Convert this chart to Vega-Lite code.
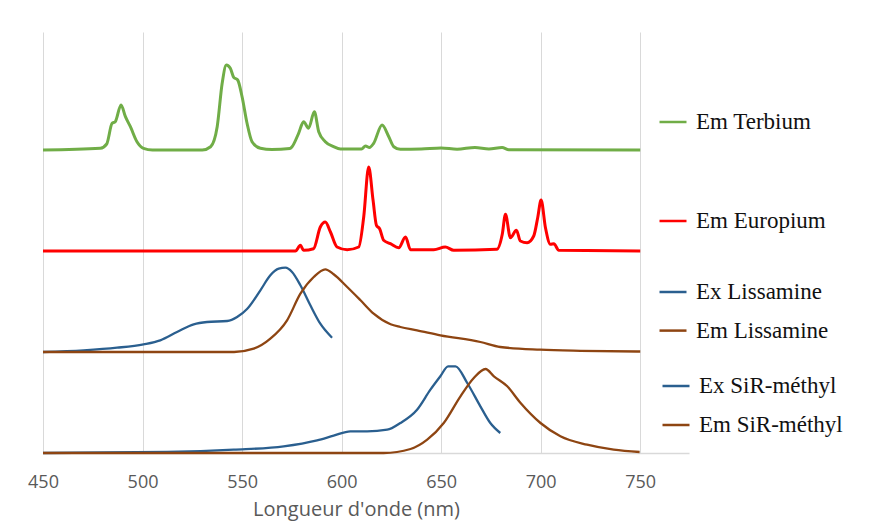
{
  "$schema": "https://vega.github.io/schema/vega-lite/v6.json",
  "width": 646,
  "height": 421,
  "autosize": {"type": "none"},
  "padding": {"left": 43, "top": 32, "right": 207, "bottom": 69},
  "background": "white",
  "config": {
    "view": {"stroke": null},
    "axis": {
      "domainColor": "#d9d9d9", "domainWidth": 1.5, "gridColor": "#d9d9d9", "gridWidth": 1,
      "labelFont": "Open Sans", "labelFontSize": 18, "labelColor": "#595959", "labelFlush": false,
      "titleFont": "Open Sans", "titleFontSize": 20, "titleColor": "#595959", "titleFontWeight": "normal",
      "ticks": false, "tickSize": 0
    },
    "legend": {
      "orient": "none", "title": null, "padding": 0,
      "symbolType": "stroke", "symbolSize": 729, "symbolStrokeWidth": 2.5,
      "labelFont": "Liberation Serif", "labelFontSize": 23, "labelColor": "#111111",
      "labelOffset": 8, "rowPadding": 12
    }
  },
  "datasets": {
    "spectra": [
      {"g": "Tb", "s": "Em Terbium", "nm": 450, "v": 3.03},
      {"g": "Tb", "s": "Em Terbium", "nm": 478.8, "v": 3.047},
      {"g": "Tb", "s": "Em Terbium", "nm": 482, "v": 3.09},
      {"g": "Tb", "s": "Em Terbium", "nm": 484.7, "v": 3.297},
      {"g": "Tb", "s": "Em Terbium", "nm": 486.3, "v": 3.313},
      {"g": "Tb", "s": "Em Terbium", "nm": 489.2, "v": 3.48},
      {"g": "Tb", "s": "Em Terbium", "nm": 491.4, "v": 3.363},
      {"g": "Tb", "s": "Em Terbium", "nm": 493.9, "v": 3.263},
      {"g": "Tb", "s": "Em Terbium", "nm": 497.2, "v": 3.113},
      {"g": "Tb", "s": "Em Terbium", "nm": 500.5, "v": 3.047},
      {"g": "Tb", "s": "Em Terbium", "nm": 505, "v": 3.03},
      {"g": "Tb", "s": "Em Terbium", "nm": 530, "v": 3.03},
      {"g": "Tb", "s": "Em Terbium", "nm": 534.2, "v": 3.063},
      {"g": "Tb", "s": "Em Terbium", "nm": 537.5, "v": 3.263},
      {"g": "Tb", "s": "Em Terbium", "nm": 540.0, "v": 3.697},
      {"g": "Tb", "s": "Em Terbium", "nm": 542.1, "v": 3.88},
      {"g": "Tb", "s": "Em Terbium", "nm": 544.1, "v": 3.847},
      {"g": "Tb", "s": "Em Terbium", "nm": 545.8, "v": 3.757},
      {"g": "Tb", "s": "Em Terbium", "nm": 547.8, "v": 3.73},
      {"g": "Tb", "s": "Em Terbium", "nm": 550.0, "v": 3.563},
      {"g": "Tb", "s": "Em Terbium", "nm": 552.5, "v": 3.297},
      {"g": "Tb", "s": "Em Terbium", "nm": 555.0, "v": 3.113},
      {"g": "Tb", "s": "Em Terbium", "nm": 559.2, "v": 3.047},
      {"g": "Tb", "s": "Em Terbium", "nm": 565, "v": 3.035},
      {"g": "Tb", "s": "Em Terbium", "nm": 574, "v": 3.045},
      {"g": "Tb", "s": "Em Terbium", "nm": 575.1, "v": 3.063},
      {"g": "Tb", "s": "Em Terbium", "nm": 578.4, "v": 3.197},
      {"g": "Tb", "s": "Em Terbium", "nm": 580.9, "v": 3.313},
      {"g": "Tb", "s": "Em Terbium", "nm": 583.4, "v": 3.247},
      {"g": "Tb", "s": "Em Terbium", "nm": 586.3, "v": 3.413},
      {"g": "Tb", "s": "Em Terbium", "nm": 588.5, "v": 3.213},
      {"g": "Tb", "s": "Em Terbium", "nm": 591.8, "v": 3.113},
      {"g": "Tb", "s": "Em Terbium", "nm": 596.0, "v": 3.063},
      {"g": "Tb", "s": "Em Terbium", "nm": 599.4, "v": 3.04},
      {"g": "Tb", "s": "Em Terbium", "nm": 610, "v": 3.04},
      {"g": "Tb", "s": "Em Terbium", "nm": 612, "v": 3.07},
      {"g": "Tb", "s": "Em Terbium", "nm": 614, "v": 3.055},
      {"g": "Tb", "s": "Em Terbium", "nm": 616.1, "v": 3.097},
      {"g": "Tb", "s": "Em Terbium", "nm": 620.3, "v": 3.28},
      {"g": "Tb", "s": "Em Terbium", "nm": 623.7, "v": 3.163},
      {"g": "Tb", "s": "Em Terbium", "nm": 626.2, "v": 3.063},
      {"g": "Tb", "s": "Em Terbium", "nm": 629.5, "v": 3.037},
      {"g": "Tb", "s": "Em Terbium", "nm": 640, "v": 3.04},
      {"g": "Tb", "s": "Em Terbium", "nm": 650, "v": 3.05},
      {"g": "Tb", "s": "Em Terbium", "nm": 658, "v": 3.038},
      {"g": "Tb", "s": "Em Terbium", "nm": 667, "v": 3.055},
      {"g": "Tb", "s": "Em Terbium", "nm": 674, "v": 3.04},
      {"g": "Tb", "s": "Em Terbium", "nm": 680.6, "v": 3.055},
      {"g": "Tb", "s": "Em Terbium", "nm": 684, "v": 3.033},
      {"g": "Tb", "s": "Em Terbium", "nm": 750, "v": 3.03},

      {"g": "Eu", "s": "Em Europium", "nm": 450, "v": 2.02},
      {"g": "Eu", "s": "Em Europium", "nm": 576.8, "v": 2.02},
      {"g": "Eu", "s": "Em Europium", "nm": 579.3, "v": 2.077},
      {"g": "Eu", "s": "Em Europium", "nm": 580.9, "v": 2.027},
      {"g": "Eu", "s": "Em Europium", "nm": 585.9, "v": 2.043},
      {"g": "Eu", "s": "Em Europium", "nm": 589.3, "v": 2.26},
      {"g": "Eu", "s": "Em Europium", "nm": 591.8, "v": 2.31},
      {"g": "Eu", "s": "Em Europium", "nm": 594.4, "v": 2.21},
      {"g": "Eu", "s": "Em Europium", "nm": 597.7, "v": 2.06},
      {"g": "Eu", "s": "Em Europium", "nm": 602.8, "v": 2.033},
      {"g": "Eu", "s": "Em Europium", "nm": 608.6, "v": 2.06},
      {"g": "Eu", "s": "Em Europium", "nm": 611.1, "v": 2.36},
      {"g": "Eu", "s": "Em Europium", "nm": 613.6, "v": 2.86},
      {"g": "Eu", "s": "Em Europium", "nm": 615.8, "v": 2.527},
      {"g": "Eu", "s": "Em Europium", "nm": 617.5, "v": 2.277},
      {"g": "Eu", "s": "Em Europium", "nm": 619.1, "v": 2.243},
      {"g": "Eu", "s": "Em Europium", "nm": 621.1, "v": 2.127},
      {"g": "Eu", "s": "Em Europium", "nm": 624.5, "v": 2.093},
      {"g": "Eu", "s": "Em Europium", "nm": 628.7, "v": 2.053},
      {"g": "Eu", "s": "Em Europium", "nm": 632.1, "v": 2.16},
      {"g": "Eu", "s": "Em Europium", "nm": 634.6, "v": 2.033},
      {"g": "Eu", "s": "Em Europium", "nm": 646.3, "v": 2.033},
      {"g": "Eu", "s": "Em Europium", "nm": 652.1, "v": 2.06},
      {"g": "Eu", "s": "Em Europium", "nm": 656.3, "v": 2.027},
      {"g": "Eu", "s": "Em Europium", "nm": 678, "v": 2.037},
      {"g": "Eu", "s": "Em Europium", "nm": 680.7, "v": 2.187},
      {"g": "Eu", "s": "Em Europium", "nm": 682.3, "v": 2.387},
      {"g": "Eu", "s": "Em Europium", "nm": 684.8, "v": 2.153},
      {"g": "Eu", "s": "Em Europium", "nm": 687.8, "v": 2.227},
      {"g": "Eu", "s": "Em Europium", "nm": 689.8, "v": 2.12},
      {"g": "Eu", "s": "Em Europium", "nm": 693.2, "v": 2.103},
      {"g": "Eu", "s": "Em Europium", "nm": 696.5, "v": 2.17},
      {"g": "Eu", "s": "Em Europium", "nm": 698.5, "v": 2.353},
      {"g": "Eu", "s": "Em Europium", "nm": 700.2, "v": 2.53},
      {"g": "Eu", "s": "Em Europium", "nm": 702.4, "v": 2.253},
      {"g": "Eu", "s": "Em Europium", "nm": 704.9, "v": 2.087},
      {"g": "Eu", "s": "Em Europium", "nm": 706.6, "v": 2.093},
      {"g": "Eu", "s": "Em Europium", "nm": 709.1, "v": 2.027},
      {"g": "Eu", "s": "Em Europium", "nm": 750, "v": 2.02},

      {"g": "Li", "s": "Ex Lissamine", "nm": 450, "v": 1.01},
      {"g": "Li", "s": "Ex Lissamine", "nm": 470.4, "v": 1.027},
      {"g": "Li", "s": "Ex Lissamine", "nm": 487.2, "v": 1.053},
      {"g": "Li", "s": "Ex Lissamine", "nm": 500.5, "v": 1.087},
      {"g": "Li", "s": "Ex Lissamine", "nm": 508.9, "v": 1.127},
      {"g": "Li", "s": "Ex Lissamine", "nm": 517.3, "v": 1.21},
      {"g": "Li", "s": "Ex Lissamine", "nm": 525.7, "v": 1.287},
      {"g": "Li", "s": "Ex Lissamine", "nm": 532.4, "v": 1.31},
      {"g": "Li", "s": "Ex Lissamine", "nm": 542.5, "v": 1.32},
      {"g": "Li", "s": "Ex Lissamine", "nm": 547.5, "v": 1.36},
      {"g": "Li", "s": "Ex Lissamine", "nm": 552.5, "v": 1.44},
      {"g": "Li", "s": "Ex Lissamine", "nm": 559.2, "v": 1.627},
      {"g": "Li", "s": "Ex Lissamine", "nm": 564.2, "v": 1.777},
      {"g": "Li", "s": "Ex Lissamine", "nm": 568.4, "v": 1.843},
      {"g": "Li", "s": "Ex Lissamine", "nm": 571.8, "v": 1.853},
      {"g": "Li", "s": "Ex Lissamine", "nm": 575.1, "v": 1.81},
      {"g": "Li", "s": "Ex Lissamine", "nm": 579.3, "v": 1.677},
      {"g": "Li", "s": "Ex Lissamine", "nm": 584.3, "v": 1.477},
      {"g": "Li", "s": "Ex Lissamine", "nm": 589.3, "v": 1.293},
      {"g": "Li", "s": "Ex Lissamine", "nm": 595.2, "v": 1.153},

      {"g": "Li", "s": "Em Lissamine", "nm": 450, "v": 1.01},
      {"g": "Li", "s": "Em Lissamine", "nm": 546, "v": 1.01},
      {"g": "Li", "s": "Em Lissamine", "nm": 555.8, "v": 1.043},
      {"g": "Li", "s": "Em Lissamine", "nm": 564.2, "v": 1.143},
      {"g": "Li", "s": "Em Lissamine", "nm": 572.6, "v": 1.327},
      {"g": "Li", "s": "Em Lissamine", "nm": 579.3, "v": 1.593},
      {"g": "Li", "s": "Em Lissamine", "nm": 586, "v": 1.76},
      {"g": "Li", "s": "Em Lissamine", "nm": 591.8, "v": 1.837},
      {"g": "Li", "s": "Em Lissamine", "nm": 596, "v": 1.787},
      {"g": "Li", "s": "Em Lissamine", "nm": 602.8, "v": 1.66},
      {"g": "Li", "s": "Em Lissamine", "nm": 609.5, "v": 1.527},
      {"g": "Li", "s": "Em Lissamine", "nm": 616.1, "v": 1.393},
      {"g": "Li", "s": "Em Lissamine", "nm": 624.6, "v": 1.287},
      {"g": "Li", "s": "Em Lissamine", "nm": 629.5, "v": 1.26},
      {"g": "Li", "s": "Em Lissamine", "nm": 637.9, "v": 1.227},
      {"g": "Li", "s": "Em Lissamine", "nm": 649.6, "v": 1.177},
      {"g": "Li", "s": "Em Lissamine", "nm": 669.7, "v": 1.11},
      {"g": "Li", "s": "Em Lissamine", "nm": 679.7, "v": 1.06},
      {"g": "Li", "s": "Em Lissamine", "nm": 699.8, "v": 1.033},
      {"g": "Li", "s": "Em Lissamine", "nm": 720, "v": 1.022},
      {"g": "Li", "s": "Em Lissamine", "nm": 750, "v": 1.015},

      {"g": "Si", "s": "Ex SiR-méthyl", "nm": 450, "v": 0},
      {"g": "Si", "s": "Ex SiR-méthyl", "nm": 512.3, "v": 0.01},
      {"g": "Si", "s": "Ex SiR-méthyl", "nm": 545.8, "v": 0.033},
      {"g": "Si", "s": "Ex SiR-méthyl", "nm": 570.9, "v": 0.067},
      {"g": "Si", "s": "Ex SiR-méthyl", "nm": 587.7, "v": 0.127},
      {"g": "Si", "s": "Ex SiR-méthyl", "nm": 596, "v": 0.173},
      {"g": "Si", "s": "Ex SiR-méthyl", "nm": 604.4, "v": 0.217},
      {"g": "Si", "s": "Ex SiR-méthyl", "nm": 612.8, "v": 0.217},
      {"g": "Si", "s": "Ex SiR-méthyl", "nm": 622.9, "v": 0.233},
      {"g": "Si", "s": "Ex SiR-méthyl", "nm": 629.5, "v": 0.3},
      {"g": "Si", "s": "Ex SiR-méthyl", "nm": 637.9, "v": 0.433},
      {"g": "Si", "s": "Ex SiR-méthyl", "nm": 644.6, "v": 0.633},
      {"g": "Si", "s": "Ex SiR-méthyl", "nm": 649.6, "v": 0.767},
      {"g": "Si", "s": "Ex SiR-méthyl", "nm": 653.5, "v": 0.867},
      {"g": "Si", "s": "Ex SiR-méthyl", "nm": 657.2, "v": 0.867},
      {"g": "Si", "s": "Ex SiR-méthyl", "nm": 663.1, "v": 0.7},
      {"g": "Si", "s": "Ex SiR-méthyl", "nm": 669.7, "v": 0.467},
      {"g": "Si", "s": "Ex SiR-méthyl", "nm": 674.7, "v": 0.3},
      {"g": "Si", "s": "Ex SiR-méthyl", "nm": 679.7, "v": 0.2},

      {"g": "Si", "s": "Em SiR-méthyl", "nm": 450, "v": 0},
      {"g": "Si", "s": "Em SiR-méthyl", "nm": 621.1, "v": 0},
      {"g": "Si", "s": "Em SiR-méthyl", "nm": 634.6, "v": 0.04},
      {"g": "Si", "s": "Em SiR-méthyl", "nm": 643, "v": 0.133},
      {"g": "Si", "s": "Em SiR-méthyl", "nm": 651.3, "v": 0.3},
      {"g": "Si", "s": "Em SiR-méthyl", "nm": 659.7, "v": 0.567},
      {"g": "Si", "s": "Em SiR-méthyl", "nm": 666.4, "v": 0.75},
      {"g": "Si", "s": "Em SiR-méthyl", "nm": 672.3, "v": 0.84},
      {"g": "Si", "s": "Em SiR-méthyl", "nm": 676.5, "v": 0.767},
      {"g": "Si", "s": "Em SiR-méthyl", "nm": 683.2, "v": 0.667},
      {"g": "Si", "s": "Em SiR-méthyl", "nm": 689.9, "v": 0.5},
      {"g": "Si", "s": "Em SiR-méthyl", "nm": 699.9, "v": 0.3},
      {"g": "Si", "s": "Em SiR-méthyl", "nm": 709.9, "v": 0.167},
      {"g": "Si", "s": "Em SiR-méthyl", "nm": 723.3, "v": 0.083},
      {"g": "Si", "s": "Em SiR-méthyl", "nm": 736.7, "v": 0.033},
      {"g": "Si", "s": "Em SiR-méthyl", "nm": 749.7, "v": 0.01}
    ]
  },
  "data": {"name": "spectra"},
  "encoding": {
    "x": {
      "field": "nm", "type": "quantitative",
      "scale": {"domain": [450, 774.5], "nice": false, "zero": false},
      "axis": {"values": [450, 500, 550, 600, 650, 700, 750], "title": "Longueur d'onde (nm)", "labelPadding": 20, "titlePadding": 8, "titleX": 313}
    },
    "y": {
      "field": "v", "type": "quantitative",
      "scale": {"domain": [0, 4.21], "nice": false, "zero": false},
      "axis": null
    }
  },
  "layer": [
    {
      "transform": [{"filter": "datum.g === 'Tb'"}],
      "mark": {"type": "line", "strokeWidth": 3, "interpolate": "monotone"},
      "encoding": {
        "color": {"field": "s", "type": "nominal", "scale": {"domain": ["Em Terbium"], "range": ["#70ad47"]},
          "legend": {"legendX": 615, "legendY": 75}}
      }
    },
    {
      "transform": [{"filter": "datum.g === 'Eu'"}],
      "mark": {"type": "line", "strokeWidth": 3, "interpolate": "monotone"},
      "encoding": {
        "color": {"field": "s", "type": "nominal", "scale": {"domain": ["Em Europium"], "range": ["#ff0000"]},
          "legend": {"legendX": 615, "legendY": 174}}
      }
    },
    {
      "transform": [{"filter": "datum.g === 'Li'"}],
      "mark": {"type": "line", "strokeWidth": 2.3, "interpolate": "monotone"},
      "encoding": {
        "color": {"field": "s", "type": "nominal", "scale": {"domain": ["Ex Lissamine", "Em Lissamine"], "range": ["#2a5f8f", "#8e4512"]},
          "legend": {"legendX": 615, "legendY": 245, "rowPadding": 11.6}}
      }
    },
    {
      "transform": [{"filter": "datum.g === 'Si'"}],
      "mark": {"type": "line", "strokeWidth": 2.3, "interpolate": "monotone"},
      "encoding": {
        "color": {"field": "s", "type": "nominal", "scale": {"domain": ["Ex SiR-méthyl", "Em SiR-méthyl"], "range": ["#2a5f8f", "#8e4512"]},
          "legend": {"legendX": 618, "legendY": 339, "rowPadding": 12}}
      }
    }
  ],
  "resolve": {"scale": {"color": "independent"}, "legend": {"color": "independent"}}
}
